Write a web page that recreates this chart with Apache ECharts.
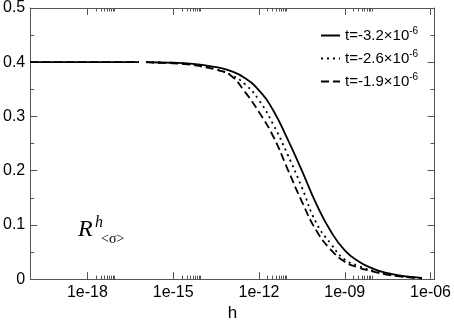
<!DOCTYPE html>
<html>
<head>
  <meta charset="utf-8">
  <title>R h sigma</title>
  <script src="https://cdn.jsdelivr.net/npm/echarts@6/dist/echarts.min.js"></script>
  <style>
    html, body { margin: 0; padding: 0; background: #fff; }
    #chart { width: 454px; height: 327px; }
  </style>
</head>
<body>
<div id="chart"></div>
<script>
  // x values are log10(h); null = gap in the curves
  let hExp = [-20, -19, -18, -17, -16.2, -16.1, -15.95, -15.5, -15, -14.5, -14, -13.5, -13, -12.5, -12,
    -11.5, -11, -10.5, -10, -9.5, -9, -8.5, -8, -7.5, -7, -6.5, -6.3];
  let rSolid = [0.400, 0.400, 0.400, 0.400, 0.400, null, 0.400, 0.3995, 0.399, 0.398, 0.395, 0.391, 0.384, 0.371, 0.348,
    0.311, 0.258, 0.200, 0.139, 0.089, 0.053, 0.032, 0.019, 0.011, 0.006, 0.003, 0.002];
  let rDotted = [0.400, 0.400, 0.400, 0.400, 0.400, null, 0.400, 0.3995, 0.399, 0.397, 0.393, 0.387, 0.377, 0.360, 0.330,
    0.285, 0.230, 0.169, 0.104, 0.066, 0.036, 0.024, 0.015, 0.009, 0.005, 0.0025, 0.0018];
  let rDashed = [0.400, 0.400, 0.400, 0.400, 0.400, null, 0.400, 0.399, 0.398, 0.396, 0.392, 0.386, 0.376, 0.346, 0.308,
    0.263, 0.203, 0.143, 0.090, 0.055, 0.032, 0.021, 0.014, 0.008, 0.0045, 0.0022, 0.0015];
  let seriesNames = ['t=-3.2×10^-6', 't=-2.6×10^-6', 't=-1.9×10^-6'];
  let majorTicks = [-18, -15, -12, -9, -6];
  let tickLabels = ['1e-18', '1e-15', '1e-12', '1e-09', '1e-06'];

  let xMin = -20, xMax = -5.86;
  let minorTicks = [];
  for (let m of majorTicks)
    for (let k = 2; k <= 9; k++)
      if (m + Math.log10(k) < xMax) minorTicks.push(m + Math.log10(k));

  let axisColor = '#555';
  let font = 'Liberation Sans';

  function pairs(ys) {
    return hExp.map((x, i) => [x, ys[i] === null ? '-' : ys[i]]);
  }

  function xAx(pos, ticks, len, labels, line) {
    return {
      type: 'value', position: pos, min: xMin, max: xMax,
      axisLine: { show: line, onZero: false, lineStyle: { color: axisColor, width: 1 } },
      axisTick: { show: true, inside: true, length: len, customValues: ticks, lineStyle: { color: axisColor } },
      axisLabel: labels ? {
        show: true, customValues: majorTicks, margin: 5, color: '#000', fontSize: 16, fontFamily: font,
        formatter: v => tickLabels[majorTicks.indexOf(Math.round(v))]
      } : { show: false },
      splitLine: { show: false }
    };
  }

  let bottomAxis = xAx('bottom', majorTicks, 7, true, true);
  bottomAxis.name = 'h';
  bottomAxis.nameLocation = 'middle';
  bottomAxis.nameGap = 19;
  bottomAxis.nameTextStyle = { color: '#000', fontSize: 17, fontFamily: font };

  function yAx(pos, labels) {
    return {
      type: 'value', position: pos, min: 0, max: 0.5, interval: 0.1,
      axisLine: { show: true, onZero: false, lineStyle: { color: axisColor, width: 1 } },
      axisTick: { show: true, inside: true, length: 7, lineStyle: { color: axisColor } },
      minorTick: { show: true, splitNumber: 2, length: 4, lineStyle: { color: axisColor } },
      axisLabel: labels ? {
        show: true, margin: 5, color: '#000', fontSize: 16, fontFamily: font,
        formatter: v => (v === 0 ? '0' : v.toFixed(1))
      } : { show: false },
      splitLine: { show: false }
    };
  }

  let lineTypes = ['solid', [2, 4], [8, 4]];
  let datas = [rSolid, rDotted, rDashed];

  let myChart = echarts.init(document.getElementById('chart'));
  let option = {
    animation: false,
    grid: { left: 30, right: 19, top: 8, bottom: 35, containLabel: false },
    xAxis: [
      bottomAxis,
      xAx('bottom', minorTicks, 3.5, false, false),
      xAx('top', majorTicks, 7, false, true),
      xAx('top', minorTicks, 3.5, false, false)
    ],
    yAxis: [yAx('left', true), yAx('right', false)],
    legend: {
      orient: 'vertical', left: 315, top: 21, itemWidth: 19, itemHeight: 10, itemGap: 6,
      data: seriesNames,
      itemStyle: { opacity: 0 },
      formatter: name => name.replace(/\^(.*)$/, '{sup|$1}'),
      textStyle: {
        color: '#000', fontSize: 15, fontFamily: font,
        rich: { sup: { fontSize: 10, fontFamily: font, color: '#000', padding: [0, 0, 9, 0] } }
      }
    },
    graphic: [
      { type: 'text', left: 78, top: 218, style: { text: 'R', font: 'italic 24px "Liberation Serif"', fill: '#000' } },
      { type: 'text', left: 95, top: 215, style: { text: 'h', font: 'italic 16px "Liberation Serif"', fill: '#000' } },
      { type: 'text', left: 101, top: 232, style: { text: '<σ>', font: '14px "Liberation Serif"', fill: '#000' } }
    ],
    series: datas.map((d, i) => ({
      name: seriesNames[i],
      type: 'line',
      xAxisIndex: 0, yAxisIndex: 0,
      data: pairs(d),
      smooth: true,
      symbol: 'none',
      connectNulls: false,
      lineStyle: { color: '#000', width: 1.8, type: lineTypes[i] },
      itemStyle: { color: '#000' }
    }))
  };
  myChart.setOption(option);
</script>
</body>
</html>
